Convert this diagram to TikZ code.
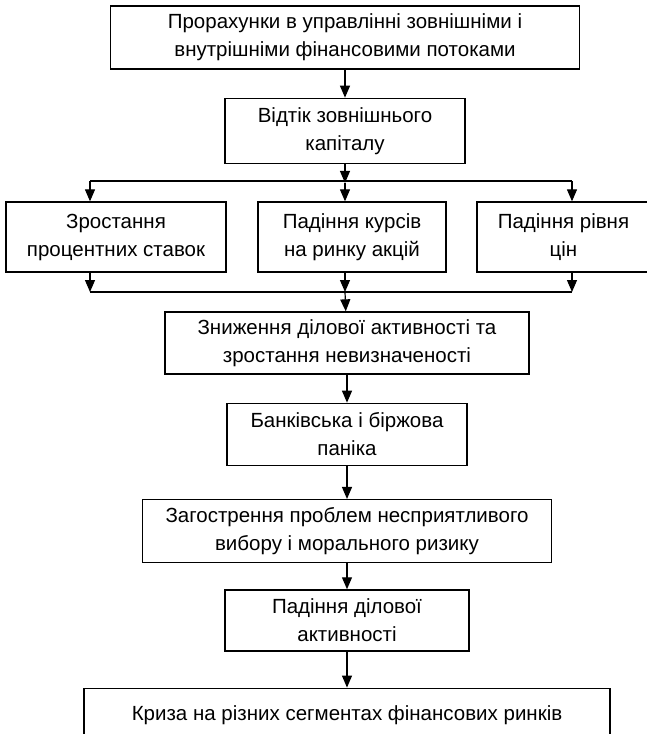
\documentclass[tikz,border=0pt]{standalone}
\usepackage{fontspec}
\setmainfont{Liberation Sans}
\usetikzlibrary{arrows.meta,positioning}

\begin{document}
\begin{tikzpicture}[
    x=1pt, y=-1pt,
    >={Triangle[length=12pt,width=10pt]},
    stage/.style={draw, rectangle, line width=1.3pt,
        align=center, inner sep=0pt,
        font=\fontsize{20.5}{28}\selectfont},
    flow/.style={->, line width=1.2pt}
]
\useasboundingbox (0,0) rectangle (647,734);
\clip (0,0) rectangle (647,734);
\node[stage, minimum width=469pt, minimum height=63pt] (miscalc) at (345,37.5)
    {Прорахунки в управлінні зовнішніми і\\внутрішніми фінансовими потоками};
\node[stage, minimum width=240pt, minimum height=65pt, below=28pt of miscalc] (outflow)
    {Відтік зовнішнього\\капіталу};
\node[stage, minimum width=220pt, minimum height=70pt] (rates) at (116,237)
    {Зростання\\процентних ставок};
\node[stage, minimum width=188pt, minimum height=70pt] (stocks) at (352,237)
    {Падіння курсів\\на ринку акцій};
\node[stage, minimum width=173pt, minimum height=70pt] (prices) at (563.5,237)
    {Падіння рівня\\цін};
\node[stage, minimum width=364pt, minimum height=62pt] (decline) at (347,343)
    {Зниження ділової активності та\\зростання невизначеності};
\node[stage, minimum width=240pt, minimum height=62pt, below=28pt of decline] (panic)
    {Банківська і біржова\\паніка};
\node[stage, minimum width=409pt, minimum height=63pt, below=33pt of panic] (adverse)
    {Загострення проблем несприятливого\\вибору і морального ризику};
\node[stage, minimum width=244pt, minimum height=61pt, below=26pt of adverse] (fall)
    {Падіння ділової\\активності};
\node[stage, minimum width=526pt, minimum height=54pt, below=36pt of fall] (crisis)
    {Криза на різних сегментах фінансових ринків};

% split after the outflow
\coordinate[below=19pt of outflow] (split);
\coordinate (splitL) at (90,181);
\coordinate (splitR) at (572,181);
\draw[flow] (miscalc) -- (outflow);
\draw[flow] (outflow) -- (split);
\draw[line width=1.2pt] (splitL) -- (splitR);
\draw[flow] (splitL) -- (splitL |- rates.north);
\draw[flow] (split) -- (split |- stocks.north);
\draw[flow] (splitR) -- (splitR |- prices.north);

% merge into the decline
\coordinate (mergeL) at (90,292);
\coordinate (mergeR) at (572,292);
\coordinate (merge) at (split |- mergeL);
\draw[flow] (mergeL |- rates.south) -- (mergeL);
\draw[flow] (merge |- stocks.south) -- (merge);
\draw[flow] (mergeR |- prices.south) -- (mergeR);
\draw[line width=1.2pt] (mergeL) -- (mergeR);
\draw[flow] (merge) -- (decline);

\draw[flow] (decline) -- (panic);
\draw[flow] (panic) -- (adverse);
\draw[flow] (adverse) -- (fall);
\draw[flow] (fall) -- (crisis);
\end{tikzpicture}
\end{document}
